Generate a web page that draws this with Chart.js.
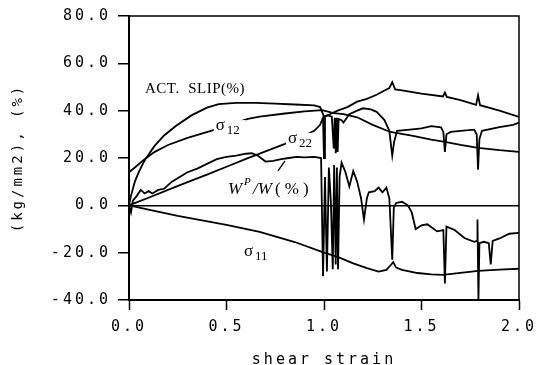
<!DOCTYPE html>
<html>
<head>
<meta charset="utf-8">
<script src="https://cdn.jsdelivr.net/npm/chart.js@4"></script>
<style>
  html, body { margin: 0; padding: 0; background: #fff; }
  canvas { display: block; }
</style>
</head>
<body>
<canvas id="chart" width="536" height="365"></canvas>
<script>
const xTicks = [0, 0.5, 1.0, 1.5, 2.0];
const yTicks = [-40, -20, 0, 20, 40, 60, 80];

// ACT. SLIP(%)
const slipX = [0, 0.01, 0.03, 0.05, 0.08, 0.13, 0.18, 0.24, 0.32, 0.40, 0.46, 0.55, 0.65, 0.75, 0.85, 0.95, 0.98, 1.0, 1.03, 1.07, 1.12, 1.17, 1.22, 1.27, 1.31, 1.335, 1.35, 1.365, 1.40, 1.50, 1.61, 1.62, 1.63, 1.70, 1.78, 1.79, 1.80, 1.90, 2.0];
const slipY = [0, 4, 10, 14, 19, 25, 29.5, 33.5, 38, 41.3, 42.8, 43.3, 43.3, 43, 42.6, 42.2, 41.5, 37.5, 38.5, 40, 41.5, 43.8, 45, 46.7, 48.5, 49.5, 52, 49, 48.6, 47.2, 46, 47.6, 45.8, 44.5, 42.5, 46.5, 42.3, 40, 37.4];

// sigma 12
const s12X = [0, 0.03, 0.08, 0.13, 0.2, 0.3, 0.42, 0.55, 0.61, 0.67, 0.8, 0.9, 0.99, 1.05, 1.1, 1.17, 1.25, 1.34, 1.45, 1.55, 1.62, 1.7, 1.79, 1.9, 2.0];
const s12Y = [14, 16, 19.5, 22.5, 25.5, 28.5, 31.5, 35, 36.5, 37.5, 38.8, 39.7, 40.2, 39, 38.5, 37.2, 34, 31, 29.5, 27.8, 26.8, 25.5, 24.3, 23.3, 22.6];

// sigma 22
const s22X = [0, 0.1, 0.2, 0.3, 0.4, 0.5, 0.6, 0.7, 0.8, 0.9, 0.95, 0.98, 0.995, 1.0, 1.005, 1.02, 1.04, 1.05, 1.055, 1.06, 1.065, 1.07, 1.075, 1.09, 1.1, 1.13, 1.17, 1.2, 1.24, 1.27, 1.31, 1.335, 1.35, 1.36, 1.375, 1.44, 1.5, 1.55, 1.6, 1.612, 1.62, 1.628, 1.65, 1.7, 1.77, 1.783, 1.79, 1.797, 1.81, 1.9, 1.97, 2.0];
const s22Y = [0, 3.2, 6.5, 9.8, 13, 16.3, 19.6, 22.8, 26, 29.5, 31.5, 34, 37, 20, 37.5, 38, 37.5, 24, 37, 22, 37, 22.5, 36.5, 36, 35, 38.5, 40, 41, 40.5, 39.5, 36, 31.5, 21, 27, 31.5, 32, 32.5, 33.5, 33, 31, 22.6, 30, 31, 31.5, 32, 30, 15, 28, 31.5, 33, 34, 35];

// W^P/W(%)
const wpX = [0, 0.01, 0.02, 0.04, 0.06, 0.08, 0.1, 0.12, 0.15, 0.18, 0.22, 0.26, 0.3, 0.35, 0.4, 0.45, 0.5, 0.55, 0.6, 0.63, 0.66, 0.7, 0.74, 0.78, 0.82, 0.86, 0.9, 0.95, 0.985, 0.995, 1.005, 1.015, 1.025, 1.035, 1.045, 1.052, 1.06, 1.066, 1.072, 1.08, 1.09, 1.1, 1.11, 1.13, 1.15, 1.17, 1.19, 1.205, 1.22, 1.23, 1.26, 1.28, 1.3, 1.32, 1.335, 1.35, 1.358, 1.37, 1.4, 1.43, 1.45, 1.47, 1.5, 1.53, 1.58, 1.612, 1.62, 1.628, 1.67, 1.72, 1.77, 1.785, 1.787, 1.792, 1.797, 1.82, 1.845, 1.855, 1.865, 1.9, 1.95, 2.0];
const wpY = [0, -3, 2, 4, 6.5, 5, 6, 5, 6.5, 7, 10, 12, 14, 15.5, 17.5, 19.5, 20.5, 21, 21.8, 22, 21, 18.5, 18.8, 19.5, 20, 20.5, 20.3, 20.5, 20, -30, 12, -28, 16, 2, -27, 17, -25, 16, -27, 12, 18, 16, 14, 8, 14.5, 10, 3, -6, 3, 5.5, 6, 7.5, 5.5, 7.5, 3, -23, -1, 1, 1.5, 0, -3, -10, -8.5, -8, -11, -10.5, -33, -9, -10.4, -13.8, -15.4, -15, -6, -40, -16, -15.4, -16, -25, -15, -14, -12, -11.6];

// sigma 11
const s11X = [0, 0.1, 0.25, 0.5, 0.67, 0.85, 1.0, 1.07, 1.15, 1.22, 1.28, 1.32, 1.345, 1.355, 1.37, 1.4, 1.48, 1.55, 1.61, 1.7, 1.79, 1.9, 2.0];
const s11Y = [0, -1.8, -4.5, -8.3, -11.2, -15.5, -20, -21.8, -24.5, -26.5, -28, -27.3, -25, -24, -26.3, -27.3, -28.6, -29.2, -29.4, -28.5, -27.7, -27.2, -26.8];

function toPoints(xs, ys) {
    return xs.map((x, i) => ({ x: x, y: ys[i] }));
}

function lineSet(label, xs, ys) {
    return {
        label: label,
        data: toPoints(xs, ys),
        borderColor: '#000',
        borderWidth: 1.8,
        pointRadius: 0,
        tension: 0,
        fill: false
    };
}

const tickFont = { family: '"DejaVu Sans Mono", monospace', size: 15 };

// frame, spacing and curve labels
const annotations = {
    id: 'annotations',
    beforeDraw(chart) {
        chart.ctx.letterSpacing = '3px';
    },
    afterDatasetsDraw(chart) {
        const { ctx, chartArea: a, scales: { x, y } } = chart;
        ctx.save();
        ctx.letterSpacing = '0px';
        ctx.strokeStyle = '#000';
        ctx.lineWidth = 1.5;
        ctx.strokeRect(a.left, a.top, a.right - a.left, a.bottom - a.top);

        ctx.fillStyle = '#000';
        ctx.textBaseline = 'alphabetic';
        ctx.textAlign = 'left';

        // ACT. SLIP(%)
        ctx.font = '15px "Liberation Serif"';
        ctx.letterSpacing = '0.5px';
        ctx.fillText('ACT.  SLIP(%)', x.getPixelForValue(0.082), y.getPixelForValue(47.6));
        ctx.letterSpacing = '0px';

        function sigma(sub, xv, yv, clear) {
            const px = x.getPixelForValue(xv);
            const py = y.getPixelForValue(yv);
            if (clear) {
                ctx.fillStyle = '#fff';
                ctx.fillRect(px - 2, py - 10, 32, 16);
                ctx.fillStyle = '#000';
            }
            ctx.font = '17px "Liberation Serif"';
            ctx.fillText('σ', px, py);
            ctx.font = '13px "Liberation Serif"';
            ctx.fillText(sub, px + 11, py + 4);
        }
        sigma('12', 0.445, 31.8, true);
        sigma('22', 0.815, 26.4, true);
        sigma('11', 0.59, -21.3, false);

        // W^P/W(%)
        const wx = x.getPixelForValue(0.508);
        const wy = y.getPixelForValue(5.0);
        ctx.font = 'italic 17px "Liberation Serif"';
        ctx.fillText('W', wx, wy);
        ctx.font = 'italic 11px "Liberation Serif"';
        ctx.fillText('P', wx + 16, wy - 9);
        ctx.font = 'italic 17px "Liberation Serif"';
        ctx.fillText('/W', wx + 25, wy);
        ctx.font = '17px "Liberation Serif"';
        ctx.letterSpacing = '4px';
        ctx.fillText('(%)', wx + 47, wy);
        ctx.letterSpacing = '0px';

        ctx.beginPath();
        ctx.lineWidth = 1.3;
        ctx.moveTo(x.getPixelForValue(0.764), y.getPixelForValue(14.6));
        ctx.lineTo(x.getPixelForValue(0.80), y.getPixelForValue(18.8));
        ctx.stroke();
        ctx.restore();
    }
};

const ctx = document.getElementById('chart').getContext('2d');
new Chart(ctx, {
    type: 'line',
    data: {
        datasets: [
            lineSet('ACT. SLIP(%)', slipX, slipY),
            lineSet('σ12', s12X, s12Y),
            lineSet('σ22', s22X, s22Y),
            lineSet('WP/W(%)', wpX, wpY),
            lineSet('σ11', s11X, s11Y)
        ]
    },
    options: {
        responsive: false,
        animation: false,
        devicePixelRatio: 1,
        layout: { padding: { top: 16, right: 17, left: 0, bottom: 0 } },
        plugins: {
            legend: { display: false },
            tooltip: { enabled: false }
        },
        scales: {
            x: {
                type: 'linear',
                min: 0,
                max: 2,
                afterBuildTicks: scale => { scale.ticks = xTicks.map(v => ({ value: v })); },
                afterFit: scale => {
                    scale.height = 65;
                    scale.paddingLeft = 0;
                    scale.paddingRight = 0;
                },
                ticks: {
                    color: '#000',
                    font: tickFont,
                    padding: 8,
                    maxRotation: 0,
                    callback: v => v.toFixed(1)
                },
                grid: {
                    drawOnChartArea: false,
                    drawTicks: true,
                    tickLength: 10,
                    tickColor: '#000',
                    tickWidth: 1.5
                },
                border: { display: true, color: '#000', width: 2 },
                title: {
                    display: true,
                    text: 'shear strain',
                    color: '#000',
                    font: { family: '"DejaVu Sans Mono", monospace', size: 15, lineHeight: 0.7 },
                    padding: { top: 0, bottom: 0 }
                }
            },
            y: {
                type: 'linear',
                min: -40,
                max: 80,
                afterBuildTicks: scale => { scale.ticks = yTicks.map(v => ({ value: v })); },
                afterFit: scale => { scale.width = 129; },
                ticks: {
                    color: '#000',
                    font: tickFont,
                    padding: 7,
                    callback: v => v.toFixed(1)
                },
                grid: {
                    drawOnChartArea: true,
                    color: c => (c.tick && c.tick.value === 0 ? '#000' : 'rgba(0,0,0,0)'),
                    lineWidth: 1.5,
                    drawTicks: true,
                    tickLength: 11,
                    tickColor: '#000',
                    tickWidth: 1.5
                },
                border: { display: true, color: '#000', width: 2 },
                title: {
                    display: true,
                    text: '(kg/mm2), (%)',
                    color: '#000',
                    font: { family: '"DejaVu Sans Mono", monospace', size: 14 },
                    padding: { top: 10, bottom: 0 }
                }
            }
        }
    },
    plugins: [annotations]
});
</script>
</body>
</html>
